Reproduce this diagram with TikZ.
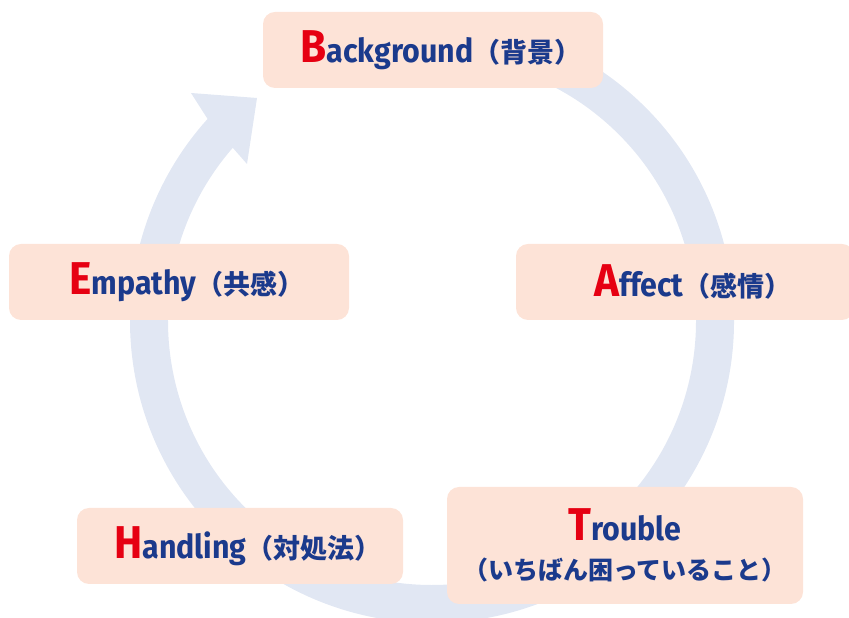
\documentclass[tikz,border=0pt]{standalone}
\usepackage{fontspec}
\newfontfamily\latf{Fira Sans}[FakeStretch=0.92]
\newfontfamily\cjk{Noto Sans CJK JP}
\usetikzlibrary{calc}
\definecolor{ringc}{HTML}{E1E7F3}
\definecolor{boxc}{HTML}{FDE3D7}
\definecolor{navy}{HTML}{1B3A8C}
\definecolor{capred}{HTML}{E60012}
\newcommand{\capl}[1]{{\fontsize{46}{46}\selectfont\color{capred}#1}}
\newcommand{\jp}[1]{{\cjk\bfseries\fontsize{27}{27}\selectfont #1}\kern-16pt}
\tikzset{
  stagebox/.style={fill=boxc, rounded corners=12pt, inner sep=0pt, text=navy,
    font=\latf\bfseries\fontsize{33}{33}\selectfont},
}
\begin{document}
\begin{tikzpicture}[x=1pt,y=1pt]
\useasboundingbox (0,0) rectangle (849,618);
\coordinate (C) at (432,297);
% ring arrow
\fill[ringc] ($(C)+(95:302)$) arc[start angle=95, end angle=-222, radius=302]
  -- (191,525) -- (257,520) -- (247,454)
  -- ($(C)+(-221:264)$) arc[start angle=-221, end angle=95, radius=264] -- cycle;
% boxes
\node[stagebox, minimum width=340, minimum height=76] (bg) at (433,568) {\capl{B}ackground\jp{（背景）}};
\node[stagebox, minimum width=338, minimum height=76] (af) at (685,336) {\capl{A}ffect\jp{（感情）}};
\node[stagebox, minimum width=356, minimum height=117, align=center] (tr) at (625,72.5)
  {\capl{T}rouble\\[6pt]{\cjk\bfseries\fontsize{25}{25}\selectfont（いちばん困っていること）}};
\node[stagebox, minimum width=326, minimum height=76] (hd) at (240,72) {\capl{H}andling\jp{（対処法）}};
\node[stagebox, minimum width=340, minimum height=76] (em) at (179,336) {\capl{E}mpathy\jp{（共感）}};
\end{tikzpicture}
\end{document}
